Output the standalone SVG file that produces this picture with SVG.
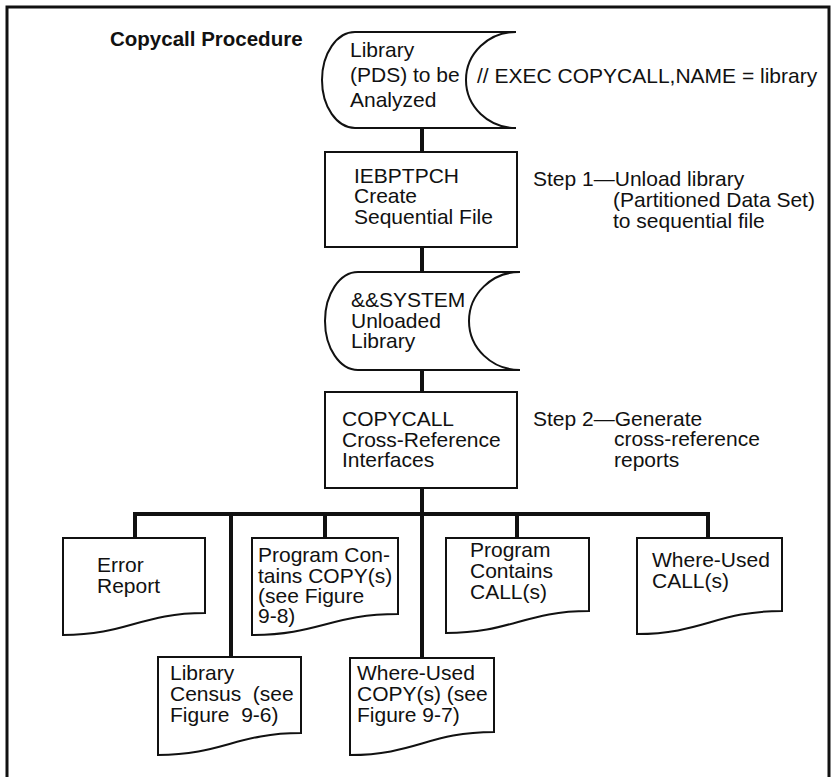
<svg xmlns="http://www.w3.org/2000/svg" width="834" height="777" viewBox="0 0 834 777">
  <style>
    text { font-family: "Liberation Sans", Arial, Helvetica, sans-serif; font-size: 21px; fill: #111; }
    .title { font-weight: bold; font-size: 20.5px; }
    .pre { white-space: pre; }
    .shape { fill: #fff; stroke: #111; stroke-width: 2; stroke-linejoin: miter; }
    .link { fill: none; stroke: #111; stroke-width: 4; stroke-linecap: butt; stroke-linejoin: miter; }
    .frame { fill: none; stroke: #111; stroke-width: 3; }
  </style>

  <rect x="0" y="0" width="834" height="777" fill="#fff"/>

  <!-- outer frame, open at the bottom -->
  <path class="frame" d="M 7 777 V 7 H 829 V 777"/>

  <text class="title" x="110" y="46">Copycall Procedure</text>

  <!-- connectors -->
  <g id="connectors">
    <path class="link" d="M 422 128 V 152"/>
    <path class="link" d="M 422 247 V 272"/>
    <path class="link" d="M 422 370 V 392"/>
    <path class="link" d="M 422 488 V 658"/>
    <path class="link" d="M 135 538 V 514 H 708 V 538"/>
    <path class="link" d="M 231 514 V 657"/>
    <path class="link" d="M 325 514 V 538"/>
    <path class="link" d="M 517 514 V 538"/>
  </g>

  <!-- stored data: input library -->
  <g id="library-pds">
    <path class="shape" d="M 355 32 H 516 A 50 48 0 0 0 516 128 H 355 A 33 48 0 0 1 355 32 Z"/>
    <text x="350" y="57">Library</text>
    <text x="350" y="82">(PDS) to be</text>
    <text x="350" y="107">Analyzed</text>
  </g>

  <g id="exec-note">
    <text x="477" y="83">// EXEC COPYCALL,NAME = library</text>
  </g>

  <!-- step 1 process -->
  <g id="iebptpch">
    <rect class="shape" x="325" y="152" width="192" height="95"/>
    <text x="354" y="183">IEBPTPCH</text>
    <text x="354" y="203">Create</text>
    <text x="354" y="224">Sequential File</text>
  </g>

  <g id="step1-note">
    <text x="533" y="186">Step 1—Unload library</text>
    <text x="613" y="207">(Partitioned Data Set)</text>
    <text x="613" y="228">to sequential file</text>
  </g>

  <!-- stored data: unloaded library -->
  <g id="system-unloaded">
    <path class="shape" d="M 358 272 H 520 A 51 49 0 0 0 520 370 H 358 A 33 49 0 0 1 358 272 Z"/>
    <text x="351" y="307">&amp;&amp;SYSTEM</text>
    <text x="351" y="328">Unloaded</text>
    <text x="351" y="348">Library</text>
  </g>

  <!-- step 2 process -->
  <g id="copycall">
    <rect class="shape" x="325" y="392" width="192" height="96"/>
    <text x="342" y="426">COPYCALL</text>
    <text x="342" y="447">Cross-Reference</text>
    <text x="342" y="467">Interfaces</text>
  </g>

  <g id="step2-note">
    <text x="533" y="426">Step 2—Generate</text>
    <text x="614" y="446">cross-reference</text>
    <text x="614" y="467">reports</text>
  </g>

  <!-- report documents -->
  <g id="error-report">
    <path class="shape" d="M 63 538 H 205 V 613 C 141 613 127 635 63 635 Z"/>
    <text x="97" y="572">Error</text>
    <text x="97" y="593">Report</text>
  </g>

  <g id="program-contains-copy">
    <path class="shape" d="M 252 538 H 398 V 614 C 332 614 318 635 252 635 Z"/>
    <text x="258" y="562">Program Con-</text>
    <text x="258" y="583">tains COPY(s)</text>
    <text x="258" y="603">(see Figure</text>
    <text x="258" y="623">9-8)</text>
  </g>

  <g id="program-contains-call">
    <path class="shape" d="M 446 538 H 589 V 611 C 525 611 511 633 446 633 Z"/>
    <text x="470" y="557">Program</text>
    <text x="470" y="578">Contains</text>
    <text x="470" y="599">CALL(s)</text>
  </g>

  <g id="where-used-call">
    <path class="shape" d="M 637 538 H 782 V 611 C 717 611 702 634 637 634 Z"/>
    <text x="652" y="567">Where-Used</text>
    <text x="652" y="588">CALL(s)</text>
  </g>

  <g id="library-census">
    <path class="shape" d="M 158 657 H 301 V 733 C 237 733 222 755 158 755 Z"/>
    <text x="170" y="680">Library</text>
    <text class="pre" x="170" y="701">Census  (see</text>
    <text class="pre" x="170" y="722">Figure  9-6)</text>
  </g>

  <g id="where-used-copy">
    <path class="shape" d="M 350 658 H 494 V 732 C 429 732 415 755 350 755 Z"/>
    <text x="357" y="680">Where-Used</text>
    <text x="357" y="701">COPY(s) (see</text>
    <text x="357" y="722">Figure 9-7)</text>
  </g>
</svg>
